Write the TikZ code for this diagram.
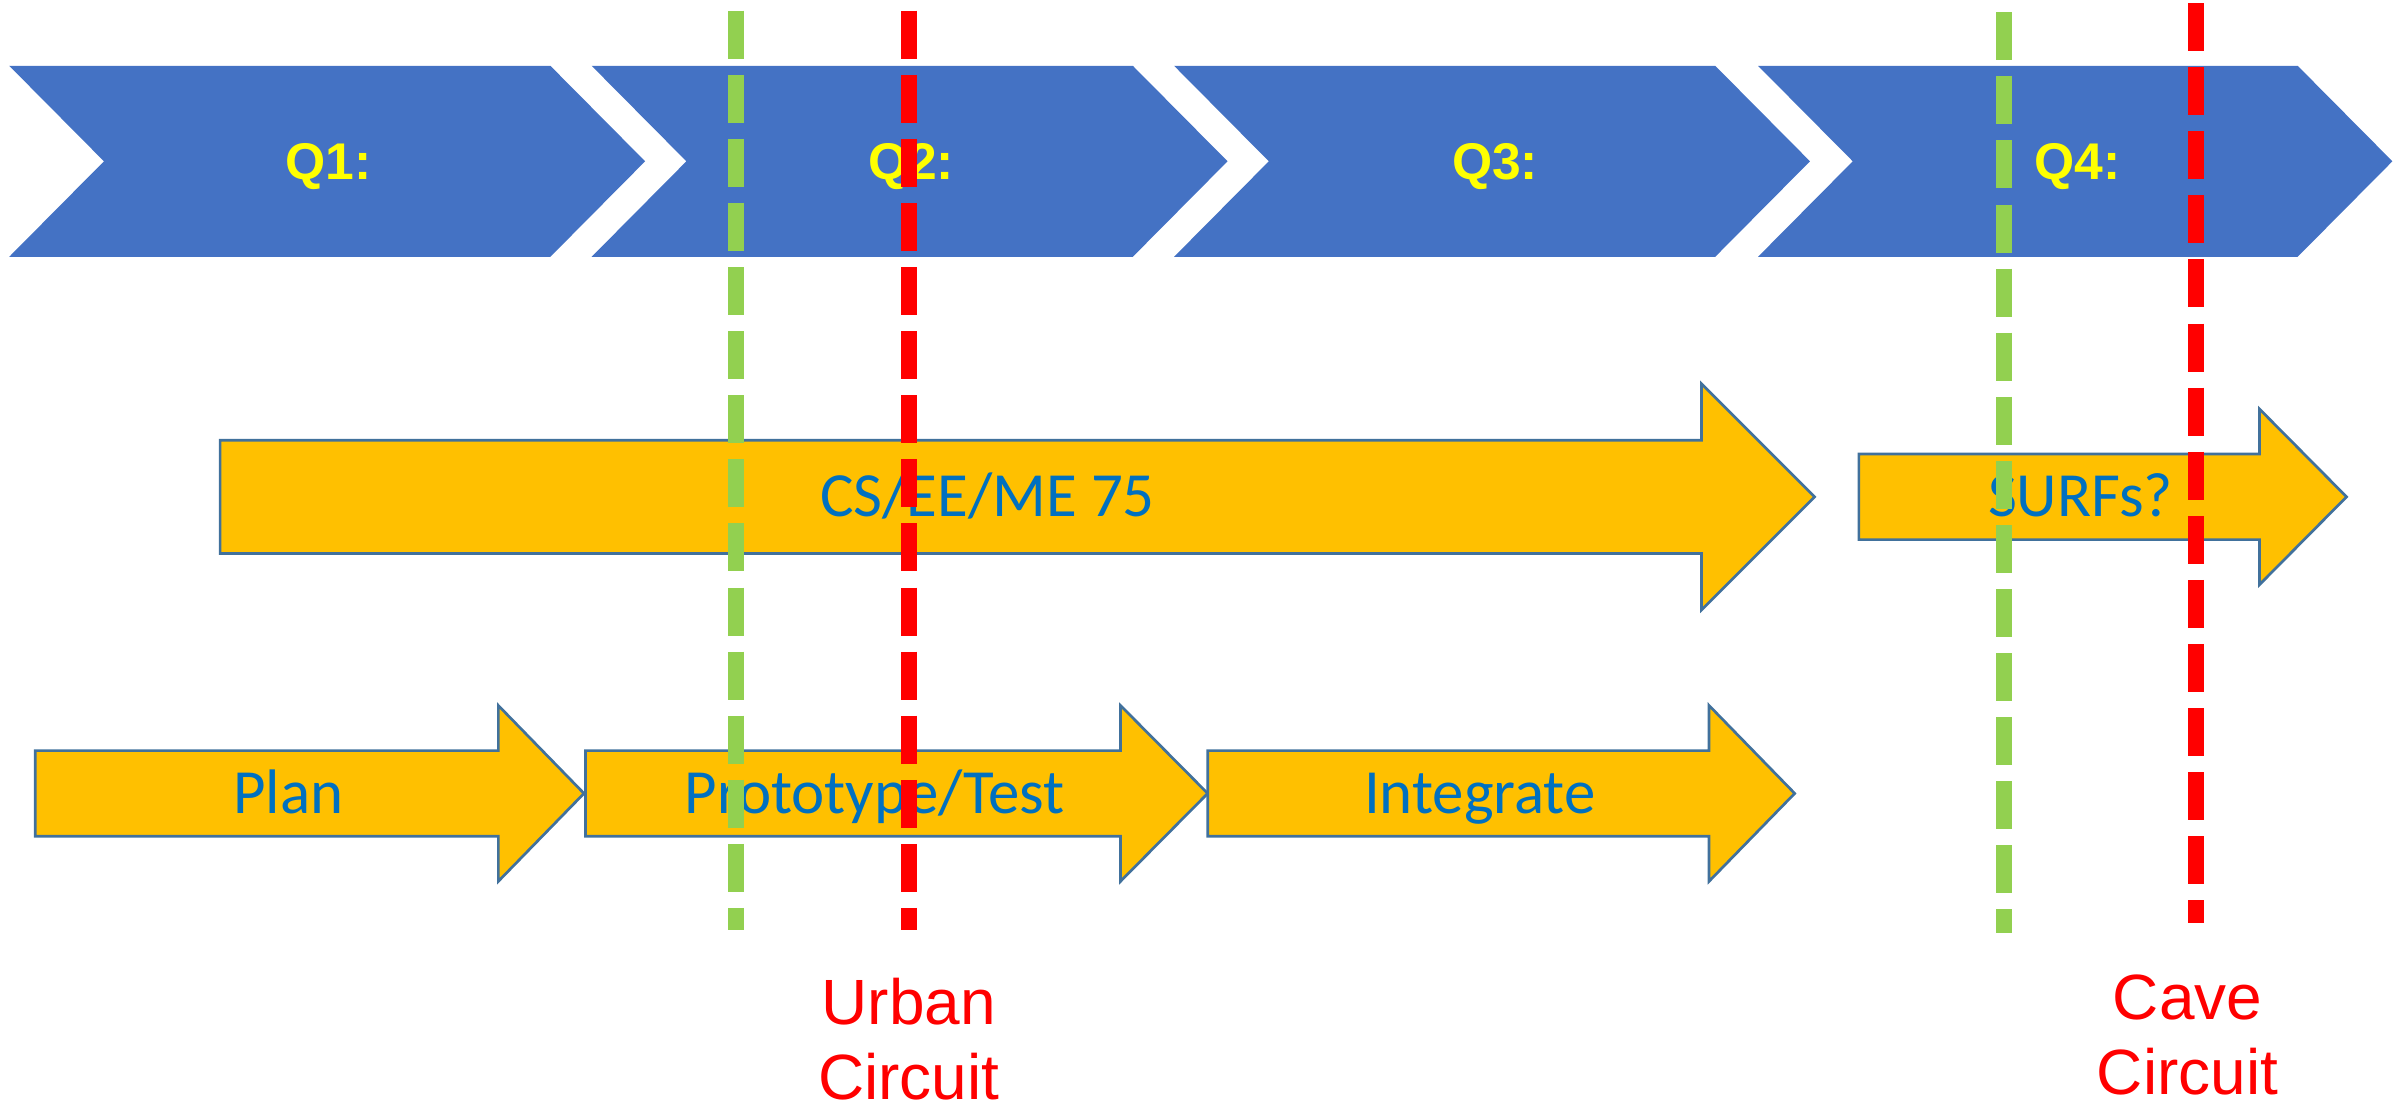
\documentclass[tikz,border=0pt]{standalone}
\usepackage{fontspec}
\setmainfont{Carlito}
\newfontfamily\arialfont{Liberation Sans}
\definecolor{qblue}{HTML}{4472C4}
\definecolor{qyellow}{HTML}{FFFF00}
\definecolor{taskyellow}{HTML}{FFC000}
\definecolor{taskedge}{HTML}{41719C}
\definecolor{taskblue}{HTML}{0070C0}
\definecolor{msgreen}{HTML}{92D050}
\definecolor{msred}{HTML}{FF0000}
\begin{document}
\begin{tikzpicture}[x=0.01cm,y=-0.01cm,
  quarter/.style={fill=qblue},
  task/.style={fill=taskyellow,draw=taskedge,line width=0.5pt},
  milestone/.style={line width=0.105cm,dash pattern=on 0.314cm off 0.105cm},
  qlabel/.style={text=qyellow,anchor=base,inner sep=0pt,font=\arialfont\bfseries\fontsize{9.6}{11}\selectfont},
  tasklabel/.style={text=taskblue,anchor=base,inner sep=0pt,font=\fontsize{11.7}{14}\selectfont},
  eventlabel/.style={text=msred,align=center,anchor=north,inner sep=0pt,
    font=\arialfont\fontsize{11.9}{13.9}\selectfont}]
\useasboundingbox(0,0)rectangle(1568,723);
% quarters
\fill[quarter](6,43)--(360,43)--(422,105.5)--(360,168)--(6,168)--(68,105.5)--cycle;
\fill[quarter](387,43)--(741,43)--(803,105.5)--(741,168)--(387,168)--(449,105.5)--cycle;
\fill[quarter](768,43)--(1122,43)--(1184,105.5)--(1122,168)--(768,168)--(830,105.5)--cycle;
\fill[quarter](1150,43)--(1503,43)--(1565,105.5)--(1503,168)--(1150,168)--(1212,105.5)--cycle;
\node[qlabel](q1)at(215,117.5){Q1:};
\node[qlabel](q2)at(596,117.5){Q2:};
\node[qlabel](q3)at(978,117.5){Q3:};
\node[qlabel](q4)at(1359,117.5){Q4:};
% tasks
\draw[task](144,288)--(1113,288)--(1113,251)--(1187,325)--(1113,399)--(1113,362)--(144,362)--cycle;
\draw[task](1216,297)--(1478,297)--(1478,267.5)--(1535,325)--(1478,382.5)--(1478,353)--(1216,353)--cycle;
\draw[task](23,491)--(326,491)--(326,461.5)--(382,519)--(326,576.5)--(326,547)--(23,547)--cycle;
\draw[task](383,491)--(733,491)--(733,461.5)--(790,519)--(733,576.5)--(733,547)--(383,547)--cycle;
\draw[task](790,491)--(1118,491)--(1118,461.5)--(1174,519)--(1118,576.5)--(1118,547)--(790,547)--cycle;
\node[tasklabel](course)at(646,338){CS/EE/ME 75};
\node[tasklabel](surfs)at(1361,338){SURFs?};
\node[tasklabel](plan)at(188.5,532){Plan};
\node[tasklabel](proto)at(572,532){Prototype/Test};
\node[tasklabel](integ)at(968,532){Integrate};
% milestones
\draw[milestone,msgreen](481.5,7)--(481.5,608.5);
\draw[milestone,msred](594.5,7)--(594.5,608.5);
\draw[milestone,msgreen](1311,8)--(1311,610);
\draw[milestone,msred](1436.5,2)--(1436.5,604);
\node[eventlabel](urban)at(594.5,639){Urban\\Circuit};
\node[eventlabel](cave)at(1431,637){Cave\\Circuit};
\end{tikzpicture}
\end{document}
